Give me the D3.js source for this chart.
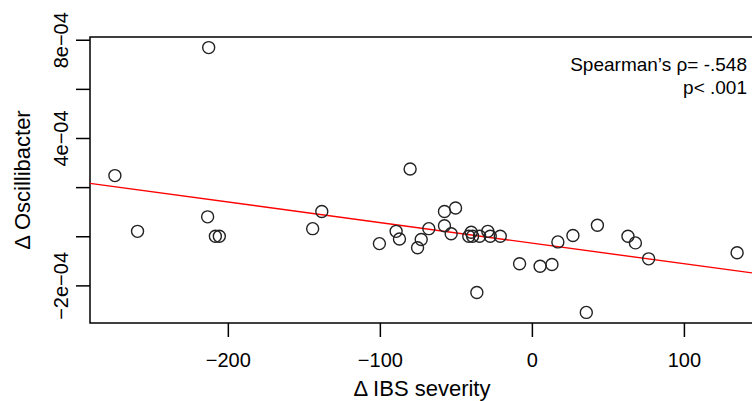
<!DOCTYPE html>
<meta charset="utf-8">
<html>
  <style>
    body { margin: 0; background: #fff; }
    svg { display: block; font-family: "Liberation Sans", Arial, sans-serif; }
    .box { fill: none; stroke: #000; stroke-width: 1.5px; }
    .tick line { stroke: #000; stroke-width: 1.5px; }
    .pt { fill: none; stroke: #222; stroke-width: 1.4px; }
    .fit { stroke: #ff0000; stroke-width: 1.4px; }
  </style>
  <head>
    <script src="https://d3js.org/d3.v7.min.js"></script>
  </head>
  <body>
    <script>
      // data
      var ibsDelta = [-212.6, -274.3, -259.4, -213.3, -208.2, -205.6, -144.2, -138.2, -100.3, -89.3,
                      -87.1, -80.1, -75.2, -72.8, -67.8, -57.5, -50.2, -57.5, -53.1, -41.5,
                      -39.9, -39.0, -34.4, -29.0, -27.4, -20.8, -8.1, -36.2, 5.4, 13.2,
                      17.1, 27.0, 43.1, 35.8, 63.2, 68.1, 76.8, 135.0];
      var oscDelta = [7.68e-4, 2.47e-4, 0.20e-4, 0.79e-4, 0.0, 0.0, 0.31e-4, 1.01e-4, -0.30e-4, 0.20e-4,
                      -0.11e-4, 2.74e-4, -0.47e-4, -0.13e-4, 0.31e-4, 1.01e-4, 1.15e-4, 0.43e-4, 0.10e-4, 0.0,
                      0.16e-4, 0.0, 0.0, 0.20e-4, 0.0, 0.0, -1.12e-4, -2.29e-4, -1.22e-4, -1.15e-4,
                      -0.23e-4, 0.03e-4, 0.45e-4, -3.10e-4, 0.0, -0.27e-4, -0.92e-4, -0.67e-4];
      // fitted line y = a + b*x
      var fitIntercept = -2.8e-5;
      var fitSlope = -8.37e-7;

      var xTicks = [-200, -100, 0, 100];
      var yTicks = [-2e-4, 0, 2e-4, 4e-4, 6e-4, 8e-4];
      var yTickLabels = ["\u22122e\u221204", "", "", "4e\u221204", "", "8e\u221204"];
      var xTitle = "\u0394 IBS severity";
      var yTitle = "\u0394 Oscillibacter";
      var statLines = ["Spearman\u2019s \u03c1= -.548", "p< .001"];

      var width = 752, height = 401;
      var box = {left: 90, right: 762, top: 37, bottom: 323};

      var svg = d3.select("body").append("svg")
          .attr("width", width)
          .attr("height", height);

      // R style 4% padding round the data range
      function padded(v) {
        var e = d3.extent(v), p = (e[1] - e[0]) * 0.04;
        return [e[0] - p, e[1] + p];
      }

      var x = d3.scaleLinear().domain(padded(ibsDelta)).range([box.left, box.right]);
      var y = d3.scaleLinear().domain(padded(oscDelta)).range([box.bottom, box.top]);

      // axes
      var xAxis = svg.append("g")
          .attr("transform", "translate(0," + box.bottom + ")")
          .call(d3.axisBottom(x).tickValues(xTicks).tickSize(14).tickSizeOuter(0)
                .tickFormat(function(d) { return d < 0 ? "\u2212" + Math.abs(d) : d; }));
      xAxis.select(".domain").remove();
      xAxis.selectAll("text").attr("y", null).attr("dy", null)
           .attr("transform", "translate(0,44)")
           .style("font-size", "20px").style("font-family", "Liberation Sans, Arial, sans-serif")
           .attr("fill", "#000");

      var yAxis = svg.append("g")
          .attr("transform", "translate(" + box.left + ",0)")
          .call(d3.axisLeft(y).tickValues(yTicks).tickSize(14).tickSizeOuter(0)
                .tickFormat(function(d, i) { return yTickLabels[i]; }));
      yAxis.select(".domain").remove();
      yAxis.selectAll("text").attr("x", null).attr("dy", null)
           .attr("text-anchor", "middle")
           .attr("transform", "translate(-22,0) rotate(-90)")
           .style("font-size", "20px").style("font-family", "Liberation Sans, Arial, sans-serif")
           .attr("fill", "#000");

      // plot frame
      svg.append("rect").attr("class", "box")
         .attr("x", box.left).attr("y", box.top)
         .attr("width", box.right - box.left).attr("height", box.bottom - box.top);

      // fit line
      var xd = x.domain();
      svg.append("line").attr("class", "fit")
         .attr("x1", x(xd[0])).attr("y1", y(fitIntercept + fitSlope * xd[0]))
         .attr("x2", x(xd[1])).attr("y2", y(fitIntercept + fitSlope * xd[1]));

      // points
      svg.selectAll(".pt").data(ibsDelta).enter().append("circle")
         .attr("class", "pt")
         .attr("cx", function(d) { return x(d); })
         .attr("cy", function(d, i) { return y(oscDelta[i]); })
         .attr("r", 6);

      // titles
      svg.append("text")
         .attr("x", 422).attr("y", 396)
         .attr("text-anchor", "middle").style("font-size", "22px")
         .text(xTitle);
      svg.append("text")
         .attr("text-anchor", "middle").style("font-size", "22px")
         .attr("transform", "translate(30," + (box.top + box.bottom) / 2 + ") rotate(-90)")
         .text(yTitle);

      // stats note
      svg.selectAll(".stat").data(statLines).enter().append("text")
         .attr("class", "stat")
         .attr("x", 747).attr("y", function(d, i) { return 71 + i * 23; })
         .attr("text-anchor", "end").style("font-size", "19px")
         .text(function(d) { return d; });
    </script>
  </body>
</html>
